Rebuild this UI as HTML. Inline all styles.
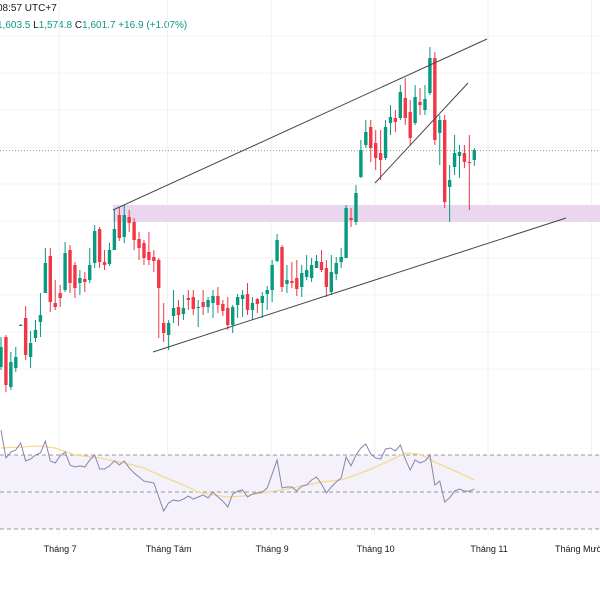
<!DOCTYPE html>
<html><head><meta charset="utf-8"><style>
html,body{margin:0;padding:0;background:#fff;width:600px;height:600px;overflow:hidden;font-family:"Liberation Sans","Noto Sans CJK SC",sans-serif}
#wrap{position:relative;width:600px;height:600px}
.hdr{position:absolute;left:-3px;font-size:10px;white-space:nowrap}
</style></head><body>
<div id="wrap">
<div class="hdr" style="top:3px;color:#131722">08:57 UTC+7</div>
<div class="hdr" style="top:20px;color:#089981">1,603.5 <span style="color:#131722">L</span>1,574.8 <span style="color:#131722">C</span>1,601.7 +16.9 (+1.07%)</div>
<svg id="svg" width="600" height="600" style="position:absolute;left:0;top:0"></svg>
</div>
<script>
const opens=[1493.5,1508.5,1483.5,1493,1514.5,1518,1498.5,1508,1516,1530.5,1549,1525.5,1530.5,1532,1552,1544.5,1535.5,1537.5,1537,1545.5,1562.5,1546,1545,1552,1569.5,1558.5,1568.5,1566,1557.5,1555.5,1551,1548.5,1547,1515.5,1509.5,1519,1523.5,1520,1528,1528.5,1523,1526,1523.5,1525.5,1529,1525,1523,1514.5,1524.5,1527.5,1530,1522,1527.5,1525.5,1530,1532,1546.5,1553.5,1535,1536.5,1538,1533.5,1538.5,1538,1543,1546,1543,1531,1540,1546,1548,1568,1566,1588.5,1604.5,1613.5,1605.5,1600.5,1598,1615.5,1618,1618,1628,1621,1615.5,1626,1622,1630.5,1648,1610.5,1617,1583.5,1593.5,1599,1600.5,1596,1597];
const highs=[1508.5,1509.5,1501,1503.5,1515,1524,1511.5,1517,1530.5,1553,1553,1537,1534.5,1556,1554.5,1546,1542,1541,1553,1564.5,1563.5,1552,1555.5,1572,1573.5,1574.5,1572,1568,1561,1557,1561,1552,1548,1525.5,1517,1532,1527,1529.5,1532,1532,1527,1532,1528.5,1532,1533.5,1527,1528.5,1524.5,1530,1532,1535.5,1528.5,1528,1531,1534,1547,1560,1554.5,1544.5,1546,1547,1544.5,1549.5,1548,1549.5,1552,1547,1549.5,1548.5,1553,1574.5,1573,1584.5,1607,1617,1617,1612,1612,1617,1624.5,1622,1634.5,1638,1627,1634.5,1633,1634.5,1653.5,1651,1619.5,1619.5,1594.5,1609.5,1604.5,1604.5,1609.5,1603];
const lows=[1492,1481,1482,1491,1514,1497,1493,1506,1508.5,1530.5,1521,1522,1523.5,1531,1530.5,1528,1529.5,1531,1535.5,1543,1543,1542,1544,1552,1556.5,1555.5,1561,1552,1547,1544.5,1544.5,1541,1508,1506,1502,1515.5,1514,1517,1522,1519.5,1513.5,1519.5,1520.5,1518,1520.5,1519,1512,1510.5,1518,1518.5,1519.5,1517,1520.5,1518,1522,1526,1546,1531,1530.5,1533,1529,1528.5,1537,1536,1543,1541,1528.5,1529.5,1537,1543,1548,1563.5,1564.5,1588,1603,1596,1592,1587,1597,1609.5,1611,1617,1614.5,1604.5,1614.5,1619.5,1619.5,1629.5,1604.5,1594.5,1573,1566,1589.5,1588,1593,1572,1594];
const closes=[1503.5,1484.5,1496,1498.5,1514.5,1499.5,1505.5,1512,1519.5,1545.5,1526,1523.5,1528,1550.5,1535.5,1533,1538,1536,1544.5,1561.5,1546,1544.5,1552,1562.5,1558,1569.5,1565.5,1557,1553,1548,1547,1546.5,1533,1510.5,1515.5,1523,1519.5,1523,1527,1522.5,1523.5,1523.5,1527,1529,1524.5,1521.5,1514.5,1523.5,1528.5,1529.5,1522,1525.5,1525,1529,1532,1544.5,1557,1533.5,1537,1535.5,1532.5,1540.5,1542,1544.5,1546.5,1542,1533.5,1541,1545.5,1548.5,1573,1567,1580.5,1602,1611,1603,1598,1597,1613.5,1618.5,1616,1631,1618,1608,1628.5,1624.5,1627.5,1648,1607,1617,1576,1587,1600.5,1601,1596,1595.5,1602];
const rsiValues=[83.5,68.4,71.6,72.7,76.5,66.8,67.8,70,71.1,77.6,66.8,65.7,69.5,71.6,64.6,63.5,64.1,63.5,67.3,70,62.4,62.4,64.1,66.8,64.6,66.8,63,60.3,58.1,55.9,55.4,54.9,47.3,39.7,44.1,45.7,45.1,46.2,47.8,46.2,47.3,48.4,46.8,50,47.3,45.1,41.9,48.9,50.5,51.1,47.3,48.9,49.5,50,52.2,59.7,67.3,52.2,52.7,52.7,50.5,53.2,53.8,56.5,58.1,54.3,49.5,52.7,55.4,57.6,68.9,64.1,70,73.8,75.9,70.5,68.4,67.8,73.2,73.8,72.2,75.4,67.8,61.9,67.3,65.7,66.8,70,53.8,55.9,44.6,46.8,50.5,51.6,50.5,50.5,51.6];
const maIndex=[0,4,8,11,15,20,25,29,33,37,40,43,46,49,53,57,61,65,69,72,76,80,82,85,88,93,96];
const maValues=[73.8,74.3,74.9,73.8,70,68.4,65.7,63,58.1,53.8,50,48.4,47.3,47.8,49.5,51.1,53.2,55.4,56.5,59.2,63.5,68.4,71.1,70.5,66.2,60.3,56.5];
const rsiLevels=[70,50,30];
const monthLabels=["Tháng 7","Tháng Tám","Tháng 9","Tháng 10","Tháng 11","Tháng Mười"];
const monthIndex=[12,34,55,76,99,120];
const lastPrice=1601.7;

const NS="http://www.w3.org/2000/svg";
const svg=document.getElementById('svg');
const xScale=i=>1+i*4.93;
const yScale=p=>2*(1677-p);
const rY=v=>492-(v-50)*1.85;
function mk(tag,attrs,parent){const e=document.createElementNS(NS,tag);for(const k in attrs)e.setAttribute(k,attrs[k]);(parent||svg).appendChild(e);return e;}

[36,73,110,147,184,221,258,295,332,369].forEach(y=>{const g=mk('line',{x1:0,x2:600,y1:y,y2:y,stroke:'#f3f3f3','stroke-width':1});

});
monthIndex.forEach(i=>{const x=xScale(i)-1;const g=mk('line',{x1:x,x2:x,y1:0,y2:535,stroke:'#f0f0f0','stroke-width':1});

});

const zone=mk('rect',{x:113,y:205,width:487,height:17,fill:'#ead7ef'});



const lp=mk('line',{x1:0,x2:600,y1:yScale(lastPrice),y2:yScale(lastPrice),stroke:'#6aa89a','stroke-width':1,'stroke-dasharray':'1,2'});



opens.forEach((o,i)=>{
 const c=closes[i],h=highs[i],l=lows[i];const up=c>=o;const col=up?'#089981':'#f23645';const x=xScale(i);
 const g=mk('g',{});
 
 
 mk('line',{x1:x,x2:x,y1:yScale(h),y2:yScale(l),stroke:col,'stroke-width':1},g);
 const top=yScale(Math.max(o,c)),bot=yScale(Math.min(o,c));
 mk('rect',{x:x-1.7,y:top,width:3.4,height:Math.max(1,bot-top),fill:col},g);
});

[[113,210,487,39,'upper-channel-line'],[153,352,566,218,'lower-channel-line'],[375,183,468,83,'wedge-line']].forEach(t=>{
 const ln=mk('line',{x1:t[0],y1:t[1],x2:t[2],y2:t[3],stroke:'#434651','stroke-width':1});
 
 
});

const band=mk('rect',{x:0,y:rY(70),width:600,height:rY(30)-rY(70),fill:'#f4f1fb'});


rsiLevels.forEach(v=>{const d=mk('line',{x1:0,x2:600,y1:rY(v),y2:rY(v),stroke:'#9598a1','stroke-width':1,'stroke-dasharray':'4,3'});

});
const ma=mk('polyline',{points:maIndex.map((i,k)=>xScale(i)+','+rY(maValues[k])).join(' '),fill:'none',stroke:'#f5d88a','stroke-width':1.2});


const rl=mk('polyline',{points:rsiValues.map((v,i)=>xScale(i)+','+rY(v)).join(' '),fill:'none',stroke:'#8a84ad','stroke-width':1});



monthLabels.forEach((t,k)=>{const tx=mk('text',{x:k==5?555:xScale(monthIndex[k]),y:552,'font-size':'9','fill':'#131722','text-anchor':k==5?'start':'middle','font-family':'Liberation Sans, sans-serif'});
tx.textContent=t;

});
</script>
</body></html>
